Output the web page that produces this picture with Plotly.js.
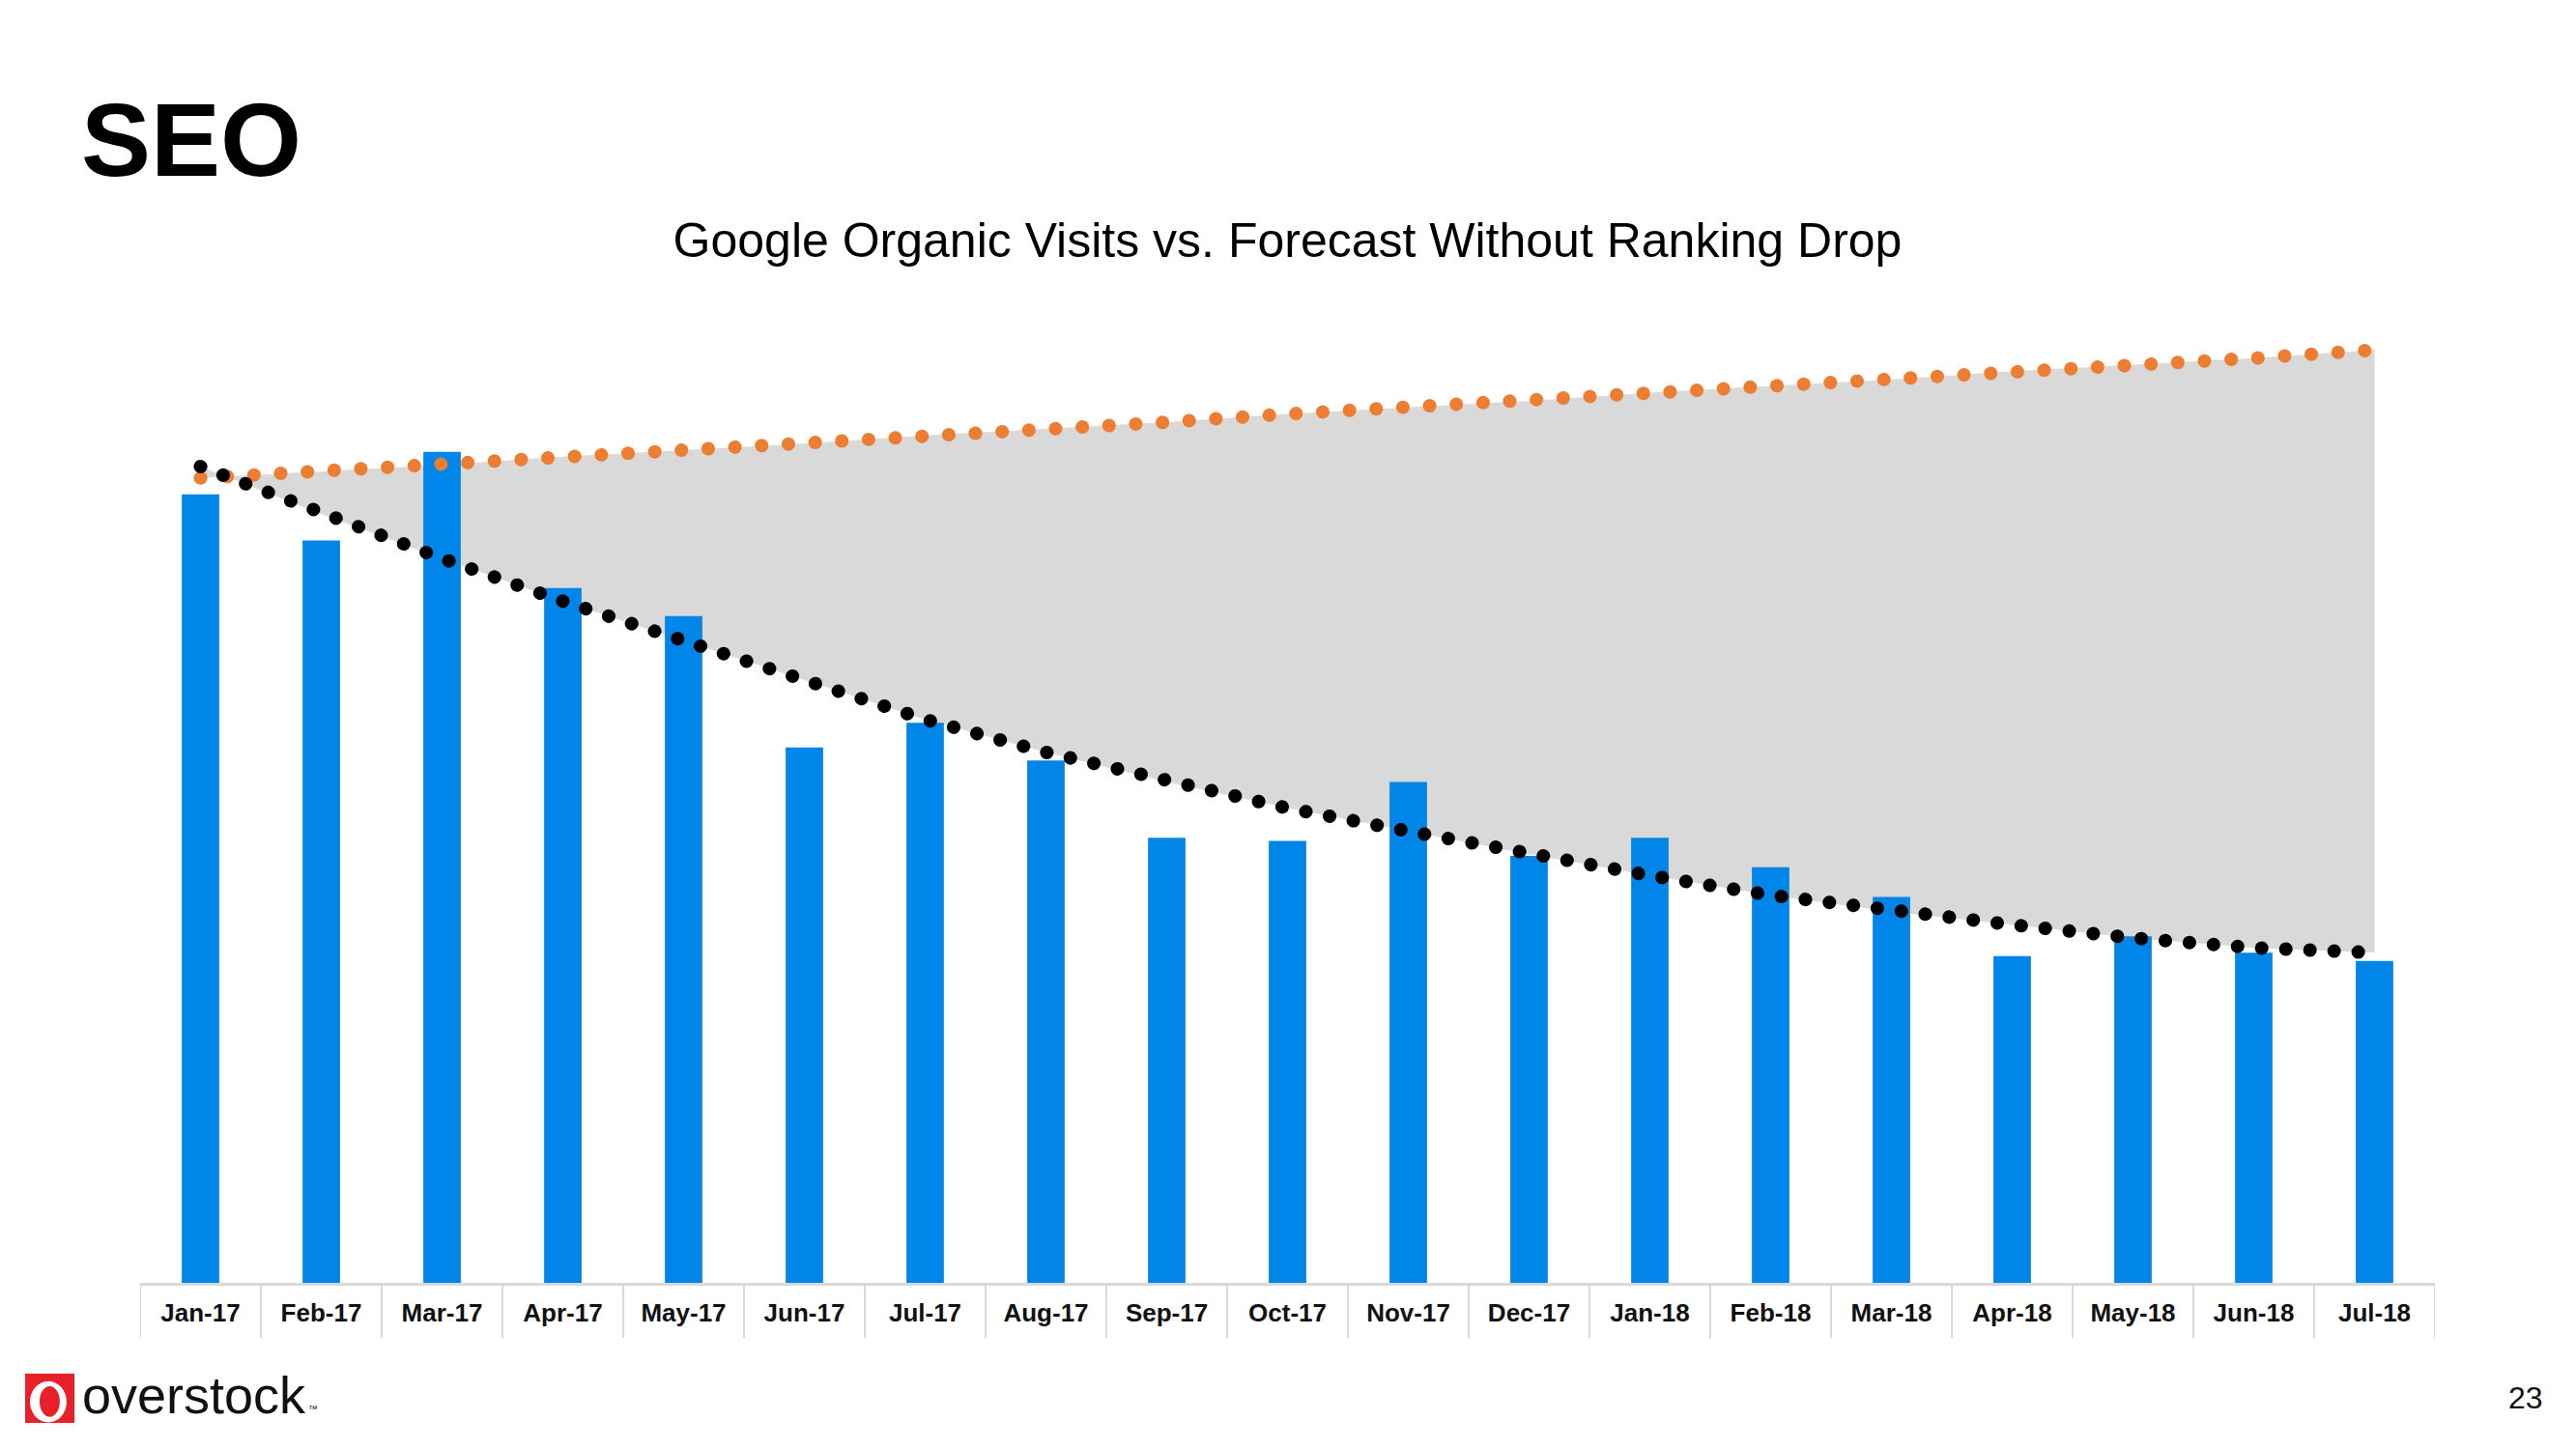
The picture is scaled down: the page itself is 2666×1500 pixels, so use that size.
<!DOCTYPE html>
<html>
<head>
<meta charset="utf-8">
<script src="https://cdn.plot.ly/plotly-3.0.1.min.js"></script>
<style>
  html, body { margin: 0; padding: 0; background: #ffffff; }
  #chart { width: 2666px; height: 1500px; }
  .scatterlayer .js-line { stroke-linecap: round !important; }
</style>
</head>
<body>
<div id="chart"></div>
<script>
// ---- data (arbitrary visit units) ----
const months = ['Jan-17','Feb-17','Mar-17','Apr-17','May-17','Jun-17','Jul-17','Aug-17','Sep-17','Oct-17',
                'Nov-17','Dec-17','Jan-18','Feb-18','Mar-18','Apr-18','May-18','Jun-18','Jul-18'];
const organicVisits = [480, 452, 506, 423, 406, 326, 341, 318, 271, 269, 305, 260, 271, 253, 235, 199, 211, 201, 196];
const forecastNoDrop = [490, 494, 498, 503, 507, 511, 516, 520, 524, 529, 533, 537, 542, 546, 550, 555, 559, 563, 568];
const actualTrend = [497, 468, 441, 415, 391, 367, 343, 323, 305, 289, 275, 261, 248, 236, 226, 218, 210, 204, 201];

const chartTitle = 'Google Organic Visits vs. Forecast Without Ranking Drop';
const slideTitle = 'SEO';
const brandName = 'overstock';
const pageNumber = '23';

const FONT = 'Liberation Sans, Arial, Helvetica, sans-serif';
const yMax = 604.6;

const traces = [
  // gap area (drawn on the base subplot, under the bars)
  { type: 'scatter', mode: 'lines', x: months, y: actualTrend, xaxis: 'x', yaxis: 'y',
    line: { width: 0, color: 'rgba(0,0,0,0)' }, hoverinfo: 'skip', showlegend: false },
  { type: 'scatter', mode: 'lines', x: months, y: forecastNoDrop, xaxis: 'x', yaxis: 'y',
    fill: 'tonexty', fillcolor: '#d9d9d9',
    line: { width: 0, color: 'rgba(0,0,0,0)' }, hoverinfo: 'skip', showlegend: false },
  // bars
  { type: 'bar', x: months, y: organicVisits, xaxis: 'x', yaxis: 'y2',
    marker: { color: '#0086e8', line: { width: 0 } }, showlegend: false },
  // dotted trend lines
  { type: 'scatter', mode: 'lines', x: months, y: forecastNoDrop, xaxis: 'x', yaxis: 'y2',
    line: { color: '#ed7d31', width: 14, dash: '0.1px,27.6px' }, showlegend: false },
  { type: 'scatter', mode: 'lines', x: months, y: actualTrend, xaxis: 'x', yaxis: 'y2',
    line: { color: '#000000', width: 14, dash: '0.1px,24.9px' }, showlegend: false }
];

// category boundary dividers under the axis
const shapes = [];
for (let i = 0; i <= months.length; i++) {
  shapes.push({ type: 'line', xref: 'x', yref: 'paper', x0: i - 0.5, x1: i - 0.5, y0: 0, y1: -0.0554,
                line: { color: '#d9d9d9', width: 2 } });
}
// logo mark
shapes.push({ type: 'rect', xref: 'paper', yref: 'paper', x0: -0.0501, x1: -0.0286, y0: -0.0914, y1: -0.1411,
              fillcolor: '#e8202a', line: { width: 0 } });
shapes.push({ type: 'circle', xref: 'paper', yref: 'paper', x0: -0.0480, x1: -0.0320, y0: -0.0990, y1: -0.1405,
              fillcolor: '#ffffff', line: { width: 0 } });
shapes.push({ type: 'circle', xref: 'paper', yref: 'paper', x0: -0.0438, x1: -0.0350, y0: -0.1040, y1: -0.1350,
              fillcolor: '#e8202a', line: { width: 0 } });

const annotations = [
  { text: slideTitle, xref: 'paper', yref: 'paper', x: -0.0265, y: 1.1513, xanchor: 'left', yanchor: 'middle',
    showarrow: false, font: { family: FONT, size: 108, color: '#000000', weight: 'bold' } },
  { text: brandName, xref: 'paper', yref: 'paper', x: -0.0262, y: -0.1128, xanchor: 'left', yanchor: 'middle',
    showarrow: false, font: { family: FONT, size: 54, color: '#111111' } },
  { text: '\u2122', xref: 'paper', yref: 'paper', x: 0.0725, y: -0.1270, xanchor: 'left', yanchor: 'middle',
    showarrow: false, font: { family: FONT, size: 10, color: '#111111' } },
  { text: pageNumber, xref: 'paper', yref: 'paper', x: 1.0396, y: -0.1158, xanchor: 'center', yanchor: 'middle',
    showarrow: false, font: { family: FONT, size: 32, color: '#111111' } }
];

const layout = {
  width: 2666, height: 1500,
  margin: { l: 145, r: 146, t: 300, b: 172, pad: 0 },
  paper_bgcolor: '#ffffff', plot_bgcolor: 'rgba(0,0,0,0)',
  showlegend: false,
  bargap: 0.69,
  title: { text: chartTitle, x: 0.5, xref: 'paper', xanchor: 'center', y: 0.8345, yref: 'container', yanchor: 'middle',
           font: { family: FONT, size: 50, color: '#000000' } },
  xaxis: { type: 'category', range: [-0.5, months.length - 0.5], showgrid: false, zeroline: false,
           showline: true, linecolor: '#d9d9d9', linewidth: 3, ticks: '', ticklabelstandoff: 6,
           tickfont: { family: FONT, size: 26, color: '#111111', weight: 'bold' }, fixedrange: true },
  yaxis: { range: [0, yMax], visible: false, showgrid: false, zeroline: false, fixedrange: true },
  yaxis2: { range: [0, yMax], overlaying: 'y', visible: false, showgrid: false, zeroline: false, fixedrange: true },
  shapes: shapes,
  annotations: annotations,
  hovermode: false
};

Plotly.newPlot('chart', traces, layout, { displayModeBar: false, staticPlot: true });
</script>
</body>
</html>
